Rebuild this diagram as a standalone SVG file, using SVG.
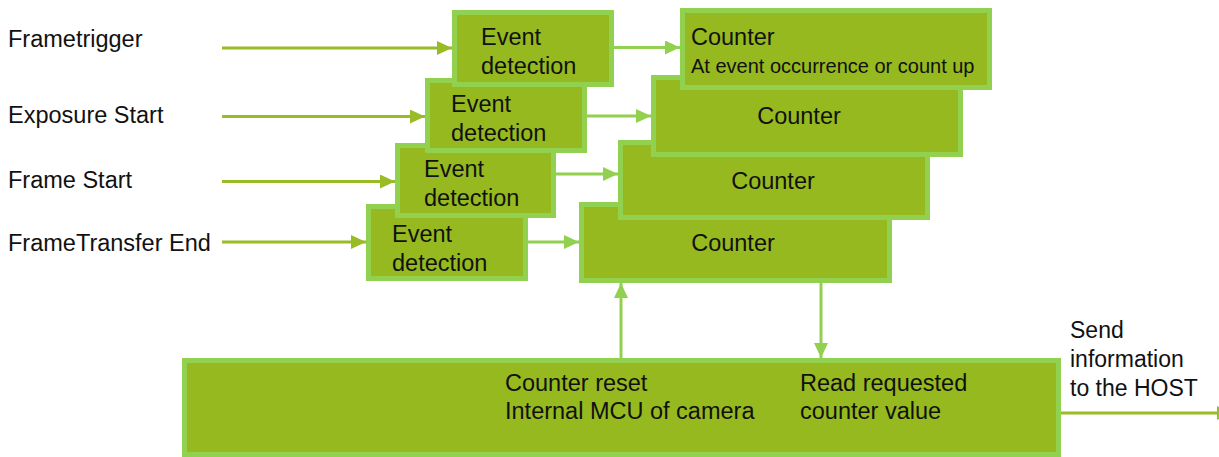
<svg xmlns="http://www.w3.org/2000/svg" width="1219" height="457" viewBox="0 0 1219 457">
<style>
.box{fill:#95B91F;stroke:#92D050;stroke-width:5}
.t{font-family:"Liberation Sans",Arial,sans-serif;font-size:23.5px;fill:#111}
.s{font-family:"Liberation Sans",Arial,sans-serif;font-size:20px;fill:#111}
.h{font-family:"Liberation Sans",Arial,sans-serif;font-size:23px;fill:#111}
.in{stroke:#99BC26;stroke-width:3;fill:none}
.lt{stroke:#92D050;stroke-width:3;fill:none}
</style>
<defs>
<marker id="aIn" markerUnits="userSpaceOnUse" markerWidth="16" markerHeight="14" refX="15" refY="7" orient="auto"><path d="M0,0 L15,7 L0,14 Z" fill="#99BC26"/></marker>
<marker id="aLt" markerUnits="userSpaceOnUse" markerWidth="16" markerHeight="14" refX="15" refY="7" orient="auto"><path d="M0,0 L15,7 L0,14 Z" fill="#92D050"/></marker>
</defs>
<rect width="1219" height="457" fill="#fff"/>
<g id="labels">
<text class="t" x="8" y="47">Frametrigger</text>
<text class="t" x="8" y="123">Exposure Start</text>
<text class="t" x="8" y="188">Frame Start</text>
<text class="t" x="8" y="251">FrameTransfer End</text>
</g>
<g id="counter4"><rect class="box" x="581.5" y="204.5" width="308" height="76"/><text class="t" x="733" y="251" text-anchor="middle">Counter</text></g>
<g id="counter3"><rect class="box" x="620.5" y="142.5" width="307" height="75"/><text class="t" x="773" y="189" text-anchor="middle">Counter</text></g>
<g id="counter2"><rect class="box" x="653.5" y="77.5" width="307" height="77"/><text class="t" x="799" y="124" text-anchor="middle">Counter</text></g>
<g id="counter1"><rect class="box" x="682.5" y="10.5" width="307" height="77"/><text class="t" x="691" y="45">Counter</text><text class="s" x="691" y="73">At event occurrence or count up</text></g>
<g id="event4"><rect class="box" x="368.5" y="206.5" width="157" height="72"/><text class="t" x="392" y="242">Event</text><text class="t" x="392" y="271">detection</text></g>
<g id="event3"><rect class="box" x="397.5" y="145.5" width="156" height="70"/><text class="t" x="424" y="177">Event</text><text class="t" x="424" y="206">detection</text></g>
<g id="event2"><rect class="box" x="427.5" y="80.5" width="157" height="70"/><text class="t" x="451" y="112">Event</text><text class="t" x="451" y="141">detection</text></g>
<g id="event1"><rect class="box" x="454.5" y="12.5" width="157" height="72"/><text class="t" x="481" y="45">Event</text><text class="t" x="481" y="74">detection</text></g>
<g id="mcu"><rect class="box" x="184.5" y="360.5" width="874" height="94"/>
<text class="t" x="505" y="391">Counter reset</text><text class="t" x="505" y="419">Internal MCU of camera</text>
<text class="t" x="800" y="391">Read requested</text><text class="t" x="800" y="419">counter value</text></g>
<g id="host"><text class="h" x="1070" y="338">Send</text><text class="h" x="1070" y="367">information</text><text class="h" x="1070" y="396">to the HOST</text></g>
<g id="connectors">
<line class="in" x1="222" y1="48" x2="452" y2="48" marker-end="url(#aIn)"/>
<line class="in" x1="222" y1="116.5" x2="425" y2="116.5" marker-end="url(#aIn)"/>
<line class="in" x1="222" y1="181.5" x2="395" y2="181.5" marker-end="url(#aIn)"/>
<line class="in" x1="222" y1="242" x2="366" y2="242" marker-end="url(#aIn)"/>
<line class="lt" x1="614" y1="47.5" x2="680" y2="47.5" marker-end="url(#aLt)"/>
<line class="lt" x1="587" y1="116" x2="651" y2="116" marker-end="url(#aLt)"/>
<line class="lt" x1="556" y1="174" x2="618" y2="174" marker-end="url(#aLt)"/>
<line class="lt" x1="528" y1="242" x2="579" y2="242" marker-end="url(#aLt)"/>
<line class="lt" x1="621" y1="358" x2="621" y2="283" marker-end="url(#aLt)"/>
<line class="lt" x1="821" y1="283" x2="821" y2="358" marker-end="url(#aLt)"/>
<line class="in" x1="1061" y1="413" x2="1232" y2="413" marker-end="url(#aIn)"/>
</g>
</svg>
